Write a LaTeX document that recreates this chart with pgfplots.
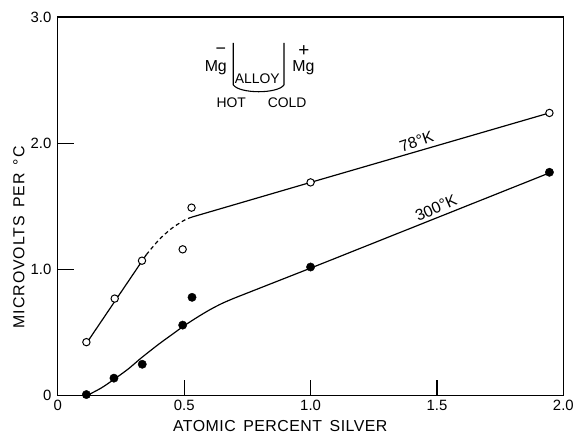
\documentclass[border=0pt]{standalone}
\usepackage{pgfplots}
\pgfplotsset{compat=1.18}
\usepackage{fontspec}
\setmainfont{Liberation Sans}
\begin{document}
\begin{tikzpicture}
\begin{axis}[
  scale only axis, width=507bp, height=380bp,
  xmin=0, xmax=2, ymin=0, ymax=3,
  xtick={0,0.5,1,1.5,2}, xticklabels={0,0.5,1.0,1.5,2.0},
  ytick={0,1,2,3}, yticklabels={0,1.0,2.0,3.0},
  xtick pos=bottom, ytick pos=left,
  tick align=inside, major tick length=16bp,
  axis line style={line width=1.2bp}, tick style={line width=1.1bp, black},
  /pgf/number format/assume math mode=true,
  tick label style={font=\fontsize{15}{17}\selectfont},
  yticklabel style={xshift=-3bp},
  xticklabel style={yshift=-1bp},
  every axis x label/.style={at={(axis description cs:0.44,-0.079)},anchor=center},
  every axis y label/.style={at={(axis description cs:-0.077,0.418)},rotate=90,anchor=center},
  xlabel={\fontsize{16}{18}\selectfont\addfontfeature{LetterSpace=3}ATOMIC\, PERCENT\, SILVER},
  ylabel={\fontsize{16}{18}\selectfont\addfontfeature{LetterSpace=6}MICROVOLTS\, PER\, °C},
  clip=false,
]
% 78 K curve
\addplot[black, line width=1.2bp] coordinates {(0.113,0.415) (0.35,1.117)};
\addplot[black, line width=1.2bp, dash pattern=on 4bp off 3bp, smooth] coordinates {(0.35,1.117) (0.40,1.235) (0.45,1.325) (0.5,1.39) (0.53,1.415)};
\addplot[black, line width=1.2bp] coordinates {(0.53,1.415) (1.0,1.69) (1.945,2.24)};
% 300 K curve
\addplot[black, line width=1.2bp, smooth] coordinates {(0.113,0.0) (0.17,0.06) (0.222,0.13) (0.28,0.215) (0.33,0.30) (0.40,0.41) (0.455,0.49) (0.5,0.555) (0.55,0.62) (0.6,0.68) (0.65,0.732) (0.7,0.775)};
\addplot[black, line width=1.2bp] coordinates {(0.7,0.775) (1.0,1.011) (1.945,1.765)};
% data points
\addplot[only marks, mark=*, mark size=3.7bp, mark options={fill=white, draw=black, line width=1bp}] coordinates {(0.113,0.425) (0.225,0.77) (0.333,1.07) (0.494,1.16) (0.529,1.49) (1.0,1.69) (1.945,2.24)};
\addplot[only marks, mark=*, mark size=4.2bp, mark options={fill=black, draw=black}] coordinates {(0.113,0.01) (0.222,0.14) (0.334,0.25) (0.494,0.56) (0.531,0.78) (1.0,1.02) (1.945,1.77)};
% curve labels
\node[anchor=south, rotate=19, font=\fontsize{16}{18}\selectfont, inner sep=3bp] at (axis cs:1.43,1.945) {78°K};
\node[anchor=south, rotate=24, font=\fontsize{16}{18}\selectfont, inner sep=3bp] at (axis cs:1.51,1.425) {300°K};
% inset
\draw[line width=1.1bp] (axis cs:0.694,2.794) -- (axis cs:0.694,2.462) .. controls (axis cs:0.72,2.39) and (axis cs:0.87,2.39) .. (axis cs:0.895,2.462) -- (axis cs:0.895,2.794);
\node[font=\fontsize{14}{16}\selectfont] at (axis cs:0.789,2.51) {ALLOY};
\node[font=\fontsize{16}{18}\selectfont] at (axis cs:0.625,2.60) {Mg};
\node[font=\fontsize{16}{18}\selectfont] at (axis cs:0.972,2.60) {Mg};
\node[font=\fontsize{18}{20}\selectfont] at (axis cs:0.645,2.73) {−};
\node[font=\fontsize{19}{21}\selectfont] at (axis cs:0.974,2.73) {+};
\node[font=\fontsize{14}{16}\selectfont] at (axis cs:0.686,2.32) {HOT};
\node[font=\fontsize{14}{16}\selectfont] at (axis cs:0.907,2.32) {COLD};
\end{axis}
\path (-58bp,-43bp) rectangle (519bp,397bp);
\end{tikzpicture}
\end{document}
